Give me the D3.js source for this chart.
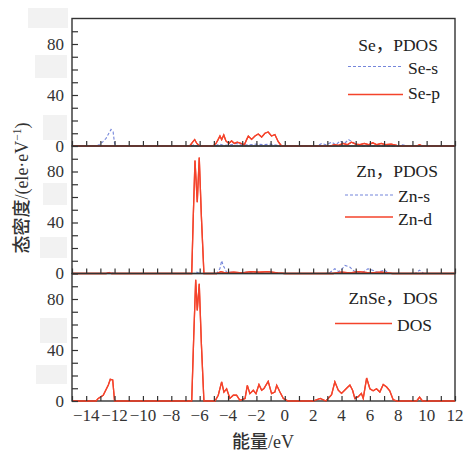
<!DOCTYPE html>
<html>
<head>
<meta charset="utf-8">
<script src="https://cdn.jsdelivr.net/npm/d3@7"></script>
<style>
  body { margin: 0; background: #fff; }
</style>
</head>
<body>
<div id="chart"></div>
<script>
// energy axis (eV) and DOS axis ticks
const energyTicks = d3.range(-15, 13, 1);
const energyLabels = [-14, -12, -10, -8, -6, -4, -2, 0, 2, 4, 6, 8, 10, 12];
const dosTicks = d3.range(0, 100, 10);
const dosLabels = [0, 40, 80];

// [energy, dos] points
const seS = [[-15,0],[-13.3,0],[-13.1,1],[-12.85,3],[-12.6,6],[-12.4,10],[-12.25,13],[-12.1,11],[-12.0,2],[-11.9,0],
  [-6.6,0],[-6.4,1],[-6.2,0],[-5.0,0],[-4.6,1.5],[-4.3,0.5],[-3.8,1],[-3.4,2],[-3.0,0.5],[-2.5,1],[-2,1.5],[-1.5,1],[-1,1.5],[-0.3,0],
  [2.3,0],[2.6,2],[2.9,1],[3.3,3],[3.6,1],[3.9,4],[4.2,2],[4.5,5],[4.8,3],[5.1,1],[5.5,0],[8,0],[8.3,1],[8.6,0],[12,0]];

const seP = [[-15,0],[-6.7,0],[-6.5,3],[-6.35,5],[-6.2,2],[-6.0,0],[-5.05,0],[-4.85,2],[-4.7,5],[-4.57,7.8],[-4.45,5],[-4.3,8.6],[-4.15,4],
  [-3.95,2],[-3.75,4],[-3.55,2],[-3.35,3],[-3.1,2],[-2.85,1],[-2.69,5],[-2.57,7.8],[-2.34,5.2],[-2.1,7.8],[-1.87,9.4],[-1.63,7],
  [-1.4,10],[-1.17,11],[-0.93,7.8],[-0.7,9],[-0.46,3.4],[-0.23,0],
  [3.2,0],[3.5,1],[3.8,0.5],[4.1,2],[4.4,1],[4.7,3],[5.0,1.5],[5.3,1],[5.6,2],[5.9,1],[6.2,2.5],[6.5,1],[6.8,2],[7.1,1],[7.5,1.5],[7.9,0.5],[8.2,0],
  [9.3,0],[9.5,1],[9.7,0],[12,0]];

const znS = [[-15,0],[-12.6,0],[-12.3,1],[-12,0],[-6.4,0],[-6.2,1],[-6.0,0],[-4.8,0],[-4.57,3.9],[-4.45,10],[-4.34,6.3],[-4.1,1],
  [-3.8,1],[-3.3,0.5],[-2.7,1],[-2,0],[2.9,0],[3.2,1],[3.53,3.7],[3.8,1.5],[4.0,3],[4.24,6.3],[4.6,5],[4.8,2.6],[5.1,0.5],
  [5.5,1],[5.86,3.7],[6.2,2.6],[6.5,1],[7.06,2.6],[7.3,0],[9.2,0],[9.5,2.6],[9.8,0],[12,0]];

const znD = [[-15,0],[-12.6,0],[-12.4,0.5],[-12.2,0],[-6.56,0],[-6.45,45],[-6.33,88.6],[-6.17,56],[-6.03,91],[-5.88,45],[-5.7,0],
  [-4.8,0],[-4.5,1.5],[-4.2,0.5],[-3.6,1],[-3,0.5],[-2.4,1.5],[-1.8,1],[-1.2,1.5],[-0.5,0.5],[0,0],
  [3.4,0],[4,1],[4.6,0.5],[5.2,1.5],[6,0.5],[6.8,1],[7.6,0],[12,0]];

const dos = [[-15,0],[-13.3,0],[-13.15,2],[-12.8,4.5],[-12.44,12.5],[-12.3,17],[-12.13,16.5],[-12.0,0],
  [-6.56,0],[-6.42,50],[-6.28,95],[-6.17,71],[-6.03,92],[-5.88,45],[-5.7,0],
  [-4.92,0],[-4.69,4.5],[-4.45,15],[-4.29,7],[-4.1,9.6],[-3.87,2],[-3.63,4.5],[-3.4,4.5],[-3.16,0.5],[-2.8,2],
  [-2.64,12.3],[-2.46,5.8],[-2.22,8.4],[-2.03,5.8],[-1.82,13],[-1.63,8.4],[-1.47,9.7],[-1.17,15.4],[-0.93,5.8],
  [-0.7,7],[-0.57,12.3],[-0.34,7],[-0.1,2],[0.24,0],
  [2.0,0],[2.5,2],[2.9,0],[3.3,5],[3.53,15],[3.77,8.5],[4.0,6],[4.36,10],[4.59,12.5],[4.78,8.4],[4.94,2],[5.18,3.4],
  [5.4,6],[5.53,2],[5.77,18],[6.0,9.6],[6.23,8],[6.47,9.6],[6.7,7],[6.94,13],[7.18,11],[7.4,8],[7.64,1],[7.9,0],
  [9.3,0],[9.5,3],[9.7,0],[12,0]];

const width = 468;
const height = 455;
const plotLeft = 72, plotRight = 455, plotTop = 18.5, panelH = 127.5;

const red = "#f4432b";
const blue = "#7586db";
const serif = "'Liberation Serif', Tinos, 'Times New Roman', serif";
const cjk = "'Noto Sans CJK SC', sans-serif";

const svg = d3.select("#chart")
  .append("svg")
  .attr("width", width)
  .attr("height", height)
  .style("font-family", serif);

// faint grey blocks seen behind the left labels in the scan
[[28, 8, 40, 20], [35, 55, 32, 23], [43, 115, 24, 25], [43, 183, 24, 22],
 [40, 237, 27, 21], [40, 318, 27, 25], [36, 365, 31, 19]].forEach(([bx, by, bw, bh]) => {
  svg.append("rect").attr("x", bx).attr("y", by).attr("width", bw).attr("height", bh).attr("fill", "#f2f2f2");
});

const x = d3.scaleLinear().domain([-15, 12]).range([plotLeft, plotRight]);

const panels = [
  { title: ["Se", "PDOS"], series: [{ name: "Se-s", data: seS, color: blue, dash: "3,2" }, { name: "Se-p", data: seP, color: red }],
    legend: { titleY: 32.5, rows: [48, 76], textY: [55.5, 80.5], x0: 348, x1: 403 } },
  { title: ["Zn", "PDOS"], series: [{ name: "Zn-s", data: znS, color: blue, dash: "3,2" }, { name: "Zn-d", data: znD, color: red }],
    legend: { titleY: 31, rows: [49, 71], textY: [55.5, 78.5], x0: 345, x1: 393 } },
  { title: ["ZnSe", "DOS"], series: [{ name: "DOS", data: dos, color: red }],
    legend: { titleY: 30, rows: [50], textY: [57.5], x0: 335, x1: 392 } }
];

panels.forEach((p, i) => {
  const y0 = plotTop + i * panelH;
  const y = d3.scaleLinear().domain([0, 100]).range([y0 + panelH, y0]);
  const g = svg.append("g");

  const line = d3.line().x(d => x(d[0])).y(d => y(d[1]));

  p.series.forEach(s => {
    g.append("path")
      .datum(s.data)
      .attr("d", line)
      .attr("fill", "none")
      .attr("stroke", s.color)
      .attr("stroke-width", s.dash ? 1.1 : 1.3)
      .attr("stroke-dasharray", s.dash || null);
  });

  // panel frame
  g.append("rect")
    .attr("x", plotLeft).attr("y", y0)
    .attr("width", plotRight - plotLeft).attr("height", panelH)
    .attr("fill", "none").attr("stroke", "#333").attr("stroke-width", 1.4);

  // redraw the solid series over the bottom border (red zero line)
  p.series.filter(s => !s.dash).forEach(s => {
    g.append("path")
      .datum(s.data)
      .attr("d", line)
      .attr("fill", "none")
      .attr("stroke", s.color)
      .attr("stroke-width", 1.3);
  });

  // inward x ticks
  g.append("g")
    .attr("transform", `translate(0,${y0 + panelH})`)
    .call(d3.axisBottom(x).tickValues(energyTicks).tickSize(-5).tickFormat(""))
    .call(a => a.select(".domain").remove())
    .call(a => a.selectAll("line").attr("stroke", "#333").attr("stroke-width", 1.2));

  // inward y ticks
  g.append("g")
    .attr("transform", `translate(${plotLeft},0)`)
    .call(d3.axisLeft(y).tickValues(dosTicks).tickSize(-6).tickFormat(""))
    .call(a => a.select(".domain").remove())
    .call(a => a.selectAll("line").attr("stroke", "#333").attr("stroke-width", 1.2));

  g.selectAll(".ylab")
    .data(dosLabels)
    .join("text")
    .style("font-family", serif)
    .attr("x", plotLeft - 8)
    .attr("y", d => y(d) + 5.5)
    .attr("text-anchor", "end")
    .attr("font-size", 17)
    .attr("fill", "#333")
    .text(d => d);

  // legend
  const L = p.legend;
  const t = g.append("text")
    .style("font-family", serif)
    .attr("x", 438).attr("y", y0 + L.titleY)
    .attr("text-anchor", "end")
    .attr("font-size", 17.5)
    .attr("fill", "#222");
  t.append("tspan").text(p.title[0]);
  t.append("tspan").style("font-family", cjk).text("，");
  t.append("tspan").text(p.title[1]);

  p.series.forEach((s, k) => {
    g.append("line")
      .attr("x1", L.x0).attr("x2", L.x1)
      .attr("y1", y0 + L.rows[k]).attr("y2", y0 + L.rows[k])
      .attr("stroke", s.color)
      .attr("stroke-width", s.dash ? 1.1 : 1.3)
      .attr("stroke-dasharray", s.dash || null);
    g.append("text")
      .style("font-family", serif)
      .attr("x", L.x1 + 5).attr("y", y0 + L.textY[k])
      .attr("font-size", 17.5)
      .attr("fill", "#222")
      .text(s.name);
  });
});

// x tick labels on the bottom panel
const plotBottom = plotTop + 3 * panelH;
svg.append("g")
  .selectAll("text")
  .data(energyLabels)
  .join("text")
  .style("font-family", serif)
  .attr("x", d => x(d))
  .attr("y", plotBottom + 20)
  .attr("text-anchor", "middle")
  .attr("font-size", 17)
  .attr("fill", "#333")
  .text(d => d < 0 ? "\u2212" + Math.abs(d) : d);

// axis titles
const xt = svg.append("text")
  .style("font-family", serif)
  .attr("x", 263).attr("y", 448)
  .attr("text-anchor", "middle")
  .attr("font-size", 18)
  .attr("fill", "#333");
xt.append("tspan").style("font-family", cjk).attr("font-weight", 500).text("能量");
xt.append("tspan").text("/eV");

const yt = svg.append("text")
  .style("font-family", serif)
  .attr("transform", "translate(28,188) rotate(-90)")
  .attr("text-anchor", "middle")
  .attr("font-size", 18)
  .attr("fill", "#333");
yt.append("tspan").style("font-family", cjk).attr("font-weight", 500).text("态密度");
yt.append("tspan").text("/(ele·eV");
yt.append("tspan").attr("font-size", 11.5).attr("dy", -7).text("\u22121");
yt.append("tspan").attr("dy", 7).text(")");
</script>
</body>
</html>
